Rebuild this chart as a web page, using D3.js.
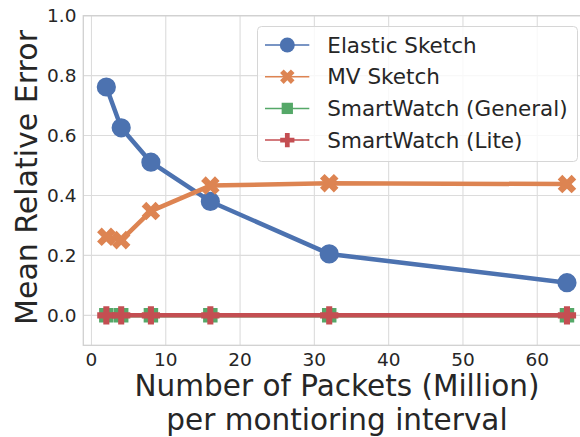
<!DOCTYPE html>
<html>
<head>
<meta charset="utf-8">
<script src="https://cdn.jsdelivr.net/npm/d3@7"></script>
<style>
  html, body { margin: 0; padding: 0; background: #fff; }
  svg { display: block; font-family: "DejaVu Sans", sans-serif; }
</style>
</head>
<body>
<svg id="chart" width="580" height="437"></svg>
<script>
// Packets per monitoring interval (million)
const packets = [2, 4, 8, 16, 32, 64];
const elasticSketch = [0.762, 0.626, 0.511, 0.380, 0.205, 0.109];
const mvSketch = [0.262, 0.251, 0.348, 0.433, 0.441, 0.438];
const smartWatchGeneral = [0, 0, 0, 0, 0, 0];
const smartWatchLite = [0, 0, 0, 0, 0, 0];
const seriesNames = ["Elastic Sketch", "MV Sketch", "SmartWatch (General)", "SmartWatch (Lite)"];
const seriesColors = ["#4C72B0", "#DD8452", "#55A868", "#C44E52"];
const xTicks = [0, 10, 20, 30, 40, 50, 60];
const yTicks = [0.0, 0.2, 0.4, 0.6, 0.8, 1.0];
const xTitleLines = ["Number of Packets (Million)", "per montioring interval"];

const series = [
  { name: seriesNames[0], values: elasticSketch, color: seriesColors[0], marker: "circle" },
  { name: seriesNames[1], values: mvSketch, color: seriesColors[1], marker: "x" },
  { name: seriesNames[2], values: smartWatchGeneral, color: seriesColors[2], marker: "square" },
  { name: seriesNames[3], values: smartWatchLite, color: seriesColors[3], marker: "plus" }
];

const svg = d3.select("#chart");
const plot = { left: 83.3, right: 590, top: 15.7, bottom: 345.3 };

const x = d3.scaleLinear().domain([-1.1, 67.1]).range([plot.left, plot.right]);
const y = d3.scaleLinear().domain([-0.1, 1.0]).range([plot.bottom, plot.top]);

const textColor = "#262626";
const gridColor = "#dcdcdc";

// grid
const g = svg.append("g");
g.selectAll(".vgrid").data(xTicks).join("line")
  .attr("x1", d => x(d)).attr("x2", d => x(d))
  .attr("y1", plot.top).attr("y2", plot.bottom)
  .attr("stroke", gridColor).attr("stroke-width", 1.1);
g.selectAll(".hgrid").data(yTicks).join("line")
  .attr("x1", plot.left).attr("x2", plot.right)
  .attr("y1", d => y(d)).attr("y2", d => y(d))
  .attr("stroke", gridColor).attr("stroke-width", 1.1);

// spines
g.append("rect")
  .attr("x", plot.left).attr("y", plot.top)
  .attr("width", plot.right - plot.left).attr("height", plot.bottom - plot.top)
  .attr("fill", "none").attr("stroke", "#d0d0d0").attr("stroke-width", 1.3);

// tick labels
g.selectAll(".xtick").data(xTicks).join("text")
  .attr("x", d => x(d)).attr("y", 365.5)
  .attr("text-anchor", "middle").attr("fill", textColor)
  .attr("font-size", 18.5)
  .text(d => d3.format("d")(d));
g.selectAll(".ytick").data(yTicks).join("text")
  .attr("x", 76.5).attr("y", d => y(d))
  .attr("dy", "0.36em")
  .attr("text-anchor", "end").attr("fill", textColor)
  .attr("font-size", 18.5)
  .text(d => d3.format(".1f")(d));

// axis titles
svg.append("text")
  .attr("transform", "translate(36.5,177.5) rotate(-90)")
  .attr("text-anchor", "middle").attr("fill", textColor)
  .attr("font-size", 30)
  .text("Mean Relative Error");
const xTitle = svg.append("text")
  .attr("x", 337).attr("y", 395.8)
  .attr("text-anchor", "middle").attr("fill", textColor)
  .attr("font-size", 29.5);
xTitle.selectAll("tspan").data(xTitleLines).join("tspan")
  .attr("x", 337)
  .attr("dy", (d, i) => i === 0 ? 0 : 34.3)
  .text(d => d);

// marker shapes
function markerPath(type, scale) {
  const s = scale || 1;
  if (type === "circle") return d3.symbol(d3.symbolCircle, 290 * s * s)();
  if (type === "x") return d3.symbol(d3.symbolCross, 215 * s * s)();
  if (type === "square") return d3.symbol(d3.symbolSquare, 210 * s * s)();
  return d3.symbol(d3.symbolCross, 185 * s * s)();
}
function markerRot(type) { return type === "x" ? 45 : 0; }

svg.append("clipPath").attr("id", "plotclip")
  .append("rect").attr("x", plot.left).attr("y", plot.top)
  .attr("width", plot.right - plot.left).attr("height", plot.bottom - plot.top);

const line = d3.line().x(d => x(d[0])).y(d => y(d[1]));
const marks = svg.append("g").attr("clip-path", "url(#plotclip)");
series.forEach(s => {
  const pts = packets.map((p, i) => [p, s.values[i]]);
  const sg = marks.append("g");
  sg.append("path").datum(pts)
    .attr("d", line).attr("fill", "none")
    .attr("stroke", s.color).attr("stroke-width", 4.5)
    .attr("stroke-linejoin", "round").attr("stroke-linecap", "round");
  sg.selectAll("path.m").data(pts).join("path").attr("class", "m")
    .attr("d", markerPath(s.marker))
    .attr("transform", d => `translate(${x(d[0])},${y(d[1])}) rotate(${markerRot(s.marker)})`)
    .attr("fill", s.color);
});

// legend
const leg = svg.append("g");
leg.append("rect")
  .attr("x", 257.5).attr("y", 26.5).attr("width", 320).attr("height", 135)
  .attr("rx", 4).attr("ry", 4)
  .attr("fill", "#ffffff").attr("fill-opacity", 0.8)
  .attr("stroke", "#d6d6d6").attr("stroke-width", 1);
series.forEach((s, i) => {
  const cy = 45 + i * 31.7;
  leg.append("line")
    .attr("x1", 265).attr("x2", 309.3).attr("y1", cy).attr("y2", cy)
    .attr("stroke", s.color).attr("stroke-width", 1.5);
  leg.append("path")
    .attr("d", markerPath(s.marker, 0.78))
    .attr("transform", `translate(287.3,${cy}) rotate(${markerRot(s.marker)})`)
    .attr("fill", s.color);
  leg.append("text")
    .attr("x", 327.3).attr("y", cy).attr("dy", "0.36em")
    .attr("fill", textColor).attr("font-size", 21.5)
    .text(s.name);
});
</script>
</body>
</html>
